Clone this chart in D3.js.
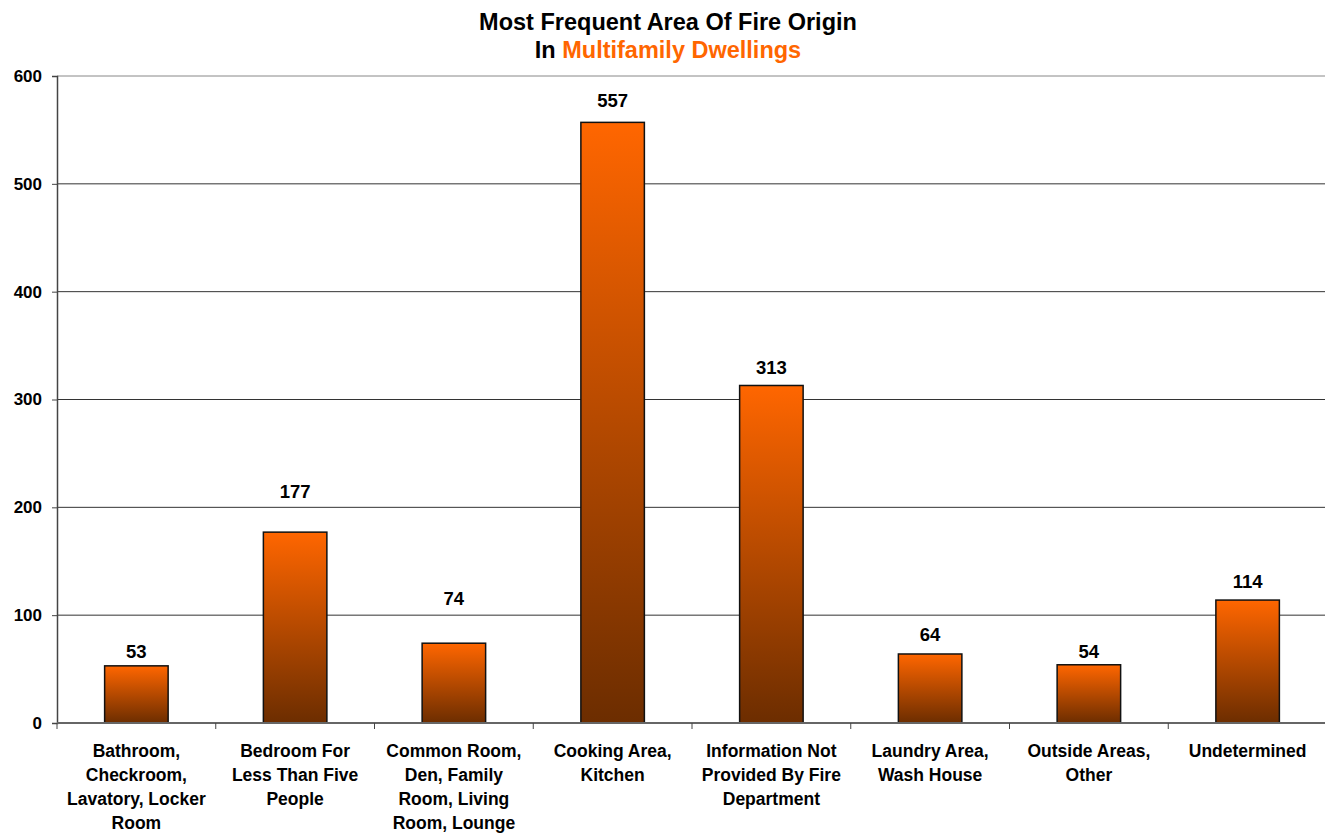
<!DOCTYPE html>
<html>
<head>
<meta charset="utf-8">
<script src="https://cdn.jsdelivr.net/npm/d3@7"></script>
<style>
  body { margin: 0; background: #fff; }
  text { font-family: "Liberation Sans", Arial, sans-serif; font-weight: bold; }
</style>
</head>
<body>
<div id="chart"></div>
<script>
// data
const categories = [
    "Bathroom,\nCheckroom,\nLavatory, Locker\nRoom",
    "Bedroom For\nLess Than Five\nPeople",
    "Common Room,\nDen, Family\nRoom, Living\nRoom, Lounge",
    "Cooking Area,\nKitchen",
    "Information Not\nProvided By Fire\nDepartment",
    "Laundry Area,\nWash House",
    "Outside Areas,\nOther",
    "Undetermined"
];
const counts = [53, 177, 74, 557, 313, 64, 54, 114];
const yTicks = [0, 100, 200, 300, 400, 500, 600];

const width = 1325, height = 833;
const margin = { top: 76, right: -2, bottom: 110, left: 57 };

const svg = d3.select("#chart")
    .append("svg")
    .attr("width", width)
    .attr("height", height);

// vertical gradient, one per bar (objectBoundingBox)
const grad = svg.append("defs").append("linearGradient")
    .attr("id", "barGrad")
    .attr("x1", 0).attr("y1", 0).attr("x2", 0).attr("y2", 1);
grad.append("stop").attr("offset", "0%").attr("stop-color", "#ff6600");
grad.append("stop").attr("offset", "100%").attr("stop-color", "#6c2d00");

const x = d3.scaleBand()
    .domain(categories)
    .range([margin.left, width - margin.right])
    .padding(0);

const y = d3.scaleLinear()
    .domain([0, 600])
    .range([height - margin.bottom, margin.top]);

// gridlines
svg.append("g")
    .selectAll("line")
    .data(yTicks.slice(1))
    .join("line")
    .attr("x1", margin.left)
    .attr("x2", width)
    .attr("y1", d => y(d))
    .attr("y2", d => y(d))
    .attr("stroke", d => d === 600 ? "#888" : "#333")
    .attr("stroke-width", 1);

// y axis
const yAxis = svg.append("g")
    .attr("transform", `translate(${margin.left},0)`)
    .call(d3.axisLeft(y).tickValues(yTicks).tickSize(5).tickPadding(10));
yAxis.select(".domain").attr("stroke", "#444").attr("stroke-width", 1.5);
yAxis.selectAll(".tick line").attr("stroke", "#444");
yAxis.selectAll(".tick text")
    .attr("fill", "#000")
    .style("font-size", "17px")
    .style("font-family", "'Liberation Sans', Arial, sans-serif")
    .style("font-weight", "bold");

// bars
const barW = x.bandwidth() * 0.4;
svg.append("g")
    .selectAll("rect")
    .data(counts)
    .join("rect")
    .attr("x", (d, i) => x(categories[i]) + (x.bandwidth() - barW) / 2)
    .attr("y", d => y(d))
    .attr("width", barW)
    .attr("height", d => y(0) - y(d))
    .attr("fill", "url(#barGrad)")
    .attr("stroke", "#111")
    .attr("stroke-width", 1.5);

// x axis line and band ticks
svg.append("line")
    .attr("x1", margin.left).attr("x2", width)
    .attr("y1", y(0)).attr("y2", y(0))
    .attr("stroke", "#666").attr("stroke-width", 2);
svg.append("g")
    .selectAll("line")
    .data(d3.range(categories.length + 1))
    .join("line")
    .attr("x1", i => margin.left + i * x.step())
    .attr("x2", i => margin.left + i * x.step())
    .attr("y1", y(0))
    .attr("y2", y(0) + 6)
    .attr("stroke", "#444");

// value labels (Excel placed some of them higher than others)
const labelGap = [8, 34, 38, 15, 11, 13, 7, 12];
svg.append("g")
    .selectAll("text")
    .data(counts)
    .join("text")
    .attr("x", (d, i) => x(categories[i]) + x.bandwidth() / 2)
    .attr("y", (d, i) => y(d) - labelGap[i])
    .attr("text-anchor", "middle")
    .style("font-size", "18.5px")
    .text(d => d);

// category labels
const catText = svg.append("g")
    .selectAll("text")
    .data(categories)
    .join("text")
    .attr("text-anchor", "middle")
    .attr("transform", d => `translate(${x(d) + x.bandwidth() / 2},${y(0) + 34})`)
    .style("font-size", "17.5px");
catText.selectAll("tspan")
    .data(d => d.split("\n"))
    .join("tspan")
    .attr("x", 0)
    .attr("dy", (d, i) => i === 0 ? 0 : 24)
    .text(d => d);

// title
svg.append("text")
    .attr("x", 668).attr("y", 30)
    .attr("text-anchor", "middle")
    .style("font-size", "23.5px")
    .text("Most Frequent Area Of Fire Origin");
const sub = svg.append("text")
    .attr("x", 668).attr("y", 58)
    .attr("text-anchor", "middle")
    .style("font-size", "23.5px");
sub.append("tspan").text("In ");
sub.append("tspan").attr("fill", "#ff6600").text("Multifamily Dwellings");
</script>
</body>
</html>
